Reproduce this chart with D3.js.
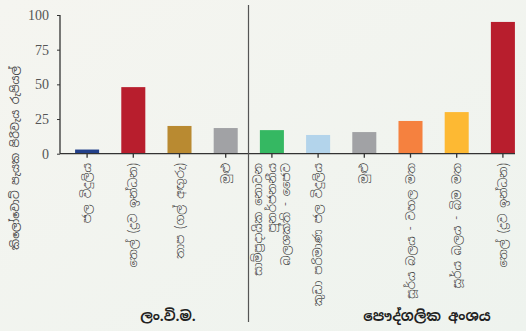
<!DOCTYPE html>
<html><head><meta charset="utf-8">
<script src="https://cdn.jsdelivr.net/npm/d3@7"></script>
<style>html,body{margin:0;padding:0;background:#f4f4f0;}svg{display:block}</style>
</head><body>
<svg id="c" width="526" height="331"></svg>
<script>
const categories = [
  ["ජල විදුලිය"],
  ["තෙල් (ද්‍රව ඉන්ධන)"],
  ["තාප (ගල් අඟුරු)"],
  ["මුළු"],
  ["සාම්ප්‍රදායික නොවන", "පුනර්ජනනීය", "බලශක්ති - ජෛව"],
  ["කුඩා පරිමාණ ජල විදුලිය"],
  ["මුළු"],
  ["සූර්ය බලය - වහල මත"],
  ["සූර්ය බලය - බිම මත"],
  ["තෙල් (ද්‍රව ඉන්ධන)"]
];
const values = [3, 48, 20, 18.5, 17, 13.5, 15.6, 23.6, 30, 95];
const colors = ["#22408a","#b81e2d","#b98a31","#a1a2a5","#35b862","#b3d4eb","#a1a2a5","#f5813f","#fdb933","#b81e2d"];
const yTicks = [0, 25, 50, 75, 100];
const groups = [{name:"ලං.වි.ම.", from:0, to:3}, {name:"පෞද්ගලික අංශය", from:4, to:9}];
const yTitle = "කිලෝවොට් පැයක පිරිවැය රුපියල්";

const svg = d3.select("#c");
const defs = svg.append("defs");
const g = defs.append("linearGradient").attr("id","bg").attr("x1","0").attr("y1","0").attr("x2","1").attr("y2","1");
g.append("stop").attr("offset","0").attr("stop-color","#f5f5f0");
g.append("stop").attr("offset","1").attr("stop-color","#eef3ee");
svg.append("rect").attr("width",526).attr("height",331).attr("fill","url(#bg)");

const x = d3.scaleBand().domain(d3.range(values.length)).range([64, 526]).paddingInner(0.48).paddingOuter(0.24);
const y = d3.scaleLinear().domain([0,100]).range([153.7, 15]);

// bars
svg.selectAll("rect.bar").data(values).join("rect").attr("class","bar")
  .attr("x",(d,i)=>x(i)).attr("width",x.bandwidth())
  .attr("y",d=>y(d)).attr("height",d=>y(0)-y(d))
  .attr("fill",(d,i)=>colors[i]);

// y axis
const ya = svg.append("g").attr("transform","translate(60,0)")
  .call(d3.axisLeft(y).tickValues(yTicks).tickSize(3).tickPadding(8));
ya.select(".domain").attr("stroke","#333").attr("stroke-width",1.3).attr("d","M0,15V153.7");
ya.selectAll(".tick line").attr("stroke","#333");
ya.selectAll("text").attr("font-family","Liberation Serif, serif").attr("font-size",14).attr("fill","#555");

// x axis
const xa = svg.append("g").attr("transform",`translate(0,${y(0)})`)
  .call(d3.axisBottom(x).tickSize(4).tickFormat(""));
xa.select(".domain").attr("stroke","#333").attr("stroke-width",1.3).attr("d","M60,0H515");
xa.selectAll(".tick line").attr("stroke","#333").attr("stroke-width",1.3);

// category labels
const fs = 12, lh = 14;
categories.forEach((lines,i)=>{
  const cx = x(i)+x.bandwidth()/2;
  const n = lines.length;
  lines.forEach((t,j)=>{
    const off = (j-(n-1)/2)*lh;
    svg.append("text")
      .attr("transform",`translate(${cx+off+4},163) rotate(-90)`)
      .attr("text-anchor","end")
      .attr("font-family","Noto Sans Sinhala, Noto Sans, sans-serif").attr("font-weight",300)
      .attr("font-size",fs).attr("fill","#333").text(t);
  });
});

// separator
svg.append("line").attr("x1",248.5).attr("x2",248.5).attr("y1",5).attr("y2",322)
  .attr("stroke","#555").attr("stroke-width",1.2);

// group labels
groups.forEach(gr=>{
  const cx = gr.name.length>10 ? 427 : 168;
  svg.append("text").attr("x",cx).attr("y",321).attr("text-anchor","middle")
    .attr("font-family","Noto Sans Sinhala, Noto Sans, sans-serif").attr("font-weight","bold")
    .attr("font-size",14).attr("fill","#222").text(gr.name);
});

// y title
svg.append("text").attr("transform","translate(19,158) rotate(-90)").attr("text-anchor","middle")
  .attr("font-family","Noto Sans Sinhala, Noto Sans, sans-serif").attr("font-weight",400)
  .attr("font-size",11).attr("fill","#444").text(yTitle);
</script>
</body></html>
